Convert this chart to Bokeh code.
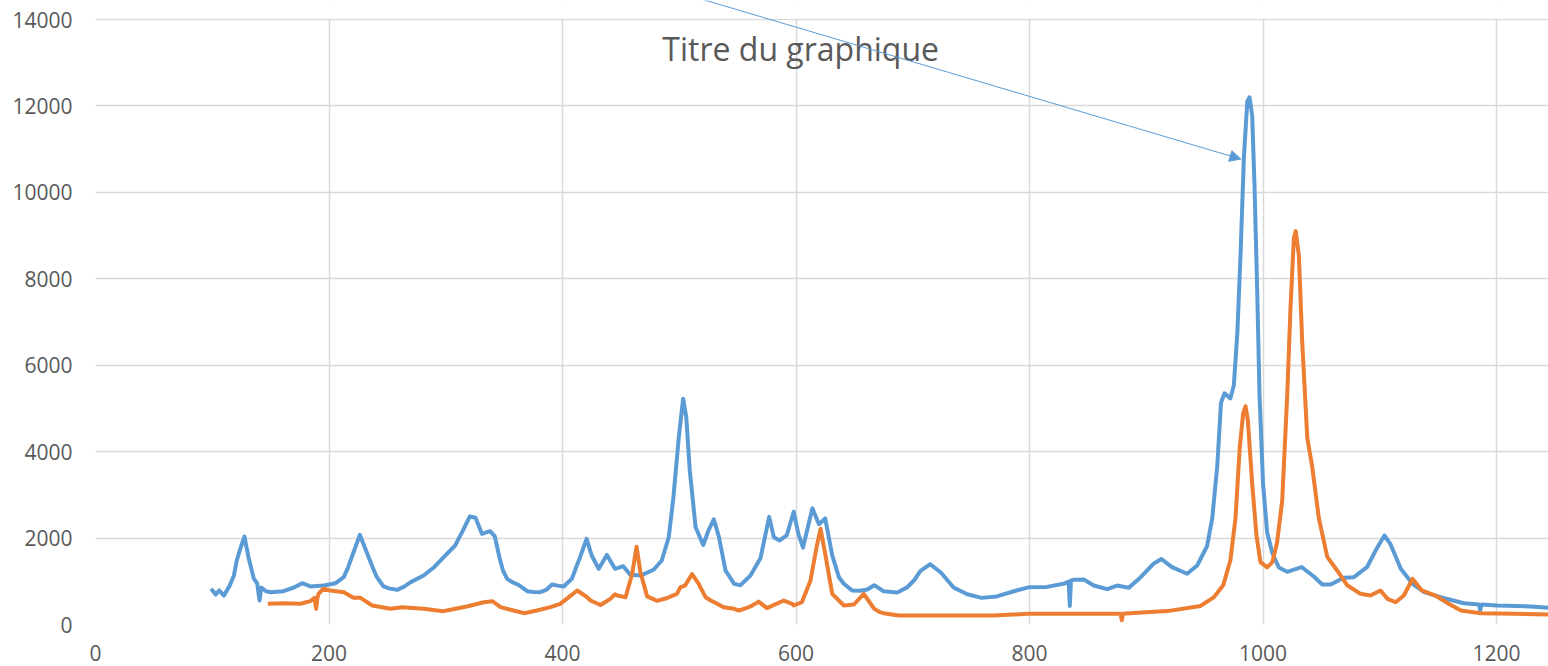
from bokeh.plotting import figure
from bokeh.models import Range1d, FixedTicker, Label, Arrow, NormalHead, BoxAnnotation
from bokeh.embed import file_html
from bokeh.resources import INLINE

# ---- data ----
blue_x = [99, 103, 106, 110, 115, 118.5, 121, 124, 127.6, 131, 135.6, 138.5, 140.5, 142, 146, 150,
          161, 170, 177, 184, 195.5, 205.6, 212.6, 216, 220, 226.4, 232.7, 237, 241, 246.7, 252,
          258.4, 264, 270, 281, 290, 301, 308, 314, 320.6, 325.5, 331, 338, 342, 346, 349, 352.6,
          357, 362, 369.8, 375, 381, 386, 391, 396, 401, 408, 415, 420.6, 425, 431, 438, 445, 452,
          458, 467, 478, 485, 491, 495, 499.6, 503.3, 506, 509, 514, 520.5, 525, 529.6, 534, 539.6,
          547, 552.5, 561, 569.6, 577, 581, 586, 592, 598, 602, 606, 614, 619.6, 625, 631, 636.7,
          641, 648, 655, 661, 667, 675, 686.7, 695, 701, 706.6, 715, 724, 735, 746.6, 759, 772,
          786.6, 799, 815, 829, 833.5, 834.5, 835.5, 838, 846.5, 855, 866.5, 875, 885, 895, 906.5,
          913, 922, 935, 943.6, 952, 956.5, 960.8, 964, 967, 972, 975, 978, 980.7, 983.6, 986.5,
          988.4, 990.7, 992.7, 995, 997, 1000, 1003.5, 1008, 1013.5, 1020.7, 1033, 1043.5, 1050.7,
          1058, 1069, 1077.8, 1089, 1098, 1104, 1109, 1118, 1128, 1138, 1152, 1172, 1185, 1186,
          1187, 1200.6, 1229, 1245]
blue_y = [830, 694, 787, 670, 900, 1130, 1480, 1750, 2036, 1557, 1064, 950, 555, 856, 770, 748,
          770, 856, 956, 880, 902, 956, 1095, 1300, 1597, 2075, 1643, 1350, 1095, 880, 830,
          803, 870, 980, 1134, 1326, 1636, 1828, 2137, 2499, 2470, 2098, 2160, 2040, 1550, 1250, 1057,
          980, 920, 770, 750, 748, 800, 925, 900, 880, 1057, 1557, 1983, 1597, 1289, 1610, 1289, 1350,
          1150, 1134, 1266, 1481, 2021, 2946, 4334, 5222, 4797, 3564, 2252, 1840, 2175, 2435, 2021, 1250,
          941, 910, 1134, 1540, 2490, 2021, 1944, 2060, 2610, 2098, 1780, 2690, 2320, 2455, 1600, 1095,
          942, 787, 780, 810, 910, 770, 740, 856, 1018, 1240, 1395, 1203, 856, 700, 616, 650,
          770, 860, 870, 942, 990, 430, 1020, 1034, 1040, 902, 818, 902, 852, 1090, 1412,
          1515, 1326, 1175, 1365, 1810, 2458, 3672, 5132, 5350, 5230, 5537, 6752, 8539, 10806, 12102,
          12200, 11780, 10158, 7729, 5300, 3263, 2134, 1648, 1321, 1220, 1330, 1110, 925,
          925, 1080, 1095, 1326, 1789, 2060, 1867, 1289, 941, 748, 632, 493, 463, 330,
          463, 440, 417, 386]

orange_x = [147.6, 161, 175.6, 184, 187.6, 189, 190, 191, 195, 201, 212.7, 221, 227, 237, 252.7,
            262.7, 281, 298, 304, 318, 332.6, 339.8, 347, 355.5, 367, 378, 389.7, 398, 405.4,
            412.6, 421, 424, 432.5, 441, 445, 447, 454, 459.7, 463.4, 466.8, 472.5, 481, 489.7,
            498, 501, 505, 511, 516.7, 518, 522.5, 527, 532.5, 538, 547, 551, 558, 561, 568, 575,
            589.6, 596.7, 598, 605, 612.4, 617.6, 621, 625, 631, 641, 649.6, 658, 665, 667, 672,
            675, 688, 712, 741, 769, 798, 826.5, 855, 878, 879, 880, 889, 918, 946.5, 958, 966,
            972, 976.4, 980, 983, 985, 987, 990.7, 994.4, 997.8, 1003.5, 1008, 1012, 1016.4,
            1020.7, 1023.5, 1026.4, 1028, 1030.7, 1033.6, 1037.9, 1042, 1047.8, 1055, 1063.6,
            1072, 1083.5, 1092, 1100.6, 1106.5, 1113.6, 1120.6, 1128, 1136, 1147.6, 1159, 1169.5,
            1186.5, 1215, 1245]
orange_y = [479, 493, 479, 540, 617, 363, 600, 710, 826, 787, 748, 617, 617, 440, 363,
            401, 363, 309, 340, 417, 516, 540, 401, 340, 262, 324, 401, 479, 632,
            787, 632, 555, 450, 594, 700, 671, 632, 1173, 1800, 1200, 650, 548, 613,
            710, 864, 902, 1165, 941, 864, 632, 555, 479, 401, 363, 324, 386, 417, 530, 380,
            555, 479, 440, 516, 1018, 1789, 2214, 1636, 710, 440, 463, 710, 440, 363, 285,
            262, 208, 208, 208, 208, 247, 247, 247, 250, 100, 250, 268, 310, 430, 634, 916,
            1481, 2458, 4077, 4887, 5052, 4725, 3267, 2052, 1444, 1321, 1444, 1891, 2862,
            5295, 7319, 8941, 9103, 8539, 6509, 4320, 3672, 2458, 1564, 1245,
            909, 710, 671, 787, 594, 516, 671, 1057, 787, 671, 479, 324,
            262, 247, 231]

x_ticks = [0, 200, 400, 600, 800, 1000, 1200]
y_ticks = [0, 2000, 4000, 6000, 8000, 10000, 12000, 14000]
title_text = "Titre du graphique"

BLUE = "#5B9BD5"
ORANGE = "#ED7D31"
GRID = "#D9D9D9"
TXT = "#595959"
FONT = "Open Sans"

Y_TOP = 14000 + 19 * 14000 / 605.0  # frame extends above the top gridline

p = figure(frame_width=1453, frame_height=624, output_backend="svg", toolbar_location=None,
           x_range=Range1d(0, 1244.5), y_range=Range1d(0, Y_TOP),
           min_border_left=95, min_border_right=0, min_border_top=0, min_border_bottom=0)
p.outline_line_color = None
p.background_fill_color = "white"
p.border_fill_color = "white"

p.xaxis.ticker = FixedTicker(ticks=x_ticks)
p.yaxis.ticker = FixedTicker(ticks=y_ticks)
for ax in (p.xaxis[0], p.yaxis[0]):
    ax.axis_line_color = None
    ax.major_tick_line_color = None
    ax.minor_tick_line_color = None
    ax.major_tick_out = 0
    ax.major_tick_in = 0
    ax.major_label_text_font = FONT
    ax.major_label_text_font_size = "21px"
    ax.major_label_text_color = TXT
p.xaxis.major_label_standoff = 20
p.yaxis.major_label_standoff = 23

p.xgrid.grid_line_color = GRID
p.ygrid.grid_line_color = GRID
p.xgrid.grid_line_width = 1.5
p.ygrid.grid_line_width = 1.5

# white mask above the top gridline (hides gridline stubs there)
p.add_layout(BoxAnnotation(bottom=14000 + 0.8 * 14000 / 605.0, fill_color="white",
                           fill_alpha=1.0, line_color=None, level="underlay"))

p.line(blue_x, blue_y, line_color=BLUE, line_width=4, line_join="round")
p.line(orange_x, orange_y, line_color=ORANGE, line_width=4, line_join="round")

p.add_layout(Label(x=604, y=13320, text=title_text, text_align="center",
                   text_baseline="alphabetic", text_font=FONT, text_font_size="32px",
                   text_color=TXT))

p.add_layout(Arrow(end=NormalHead(size=11, fill_color=BLUE, line_color=BLUE, line_width=1),
                   x_start=518, y_start=14480, x_end=981, y_end=10770,
                   line_color=BLUE, line_width=1))

open("out.html", "w").write(file_html(p, INLINE))
